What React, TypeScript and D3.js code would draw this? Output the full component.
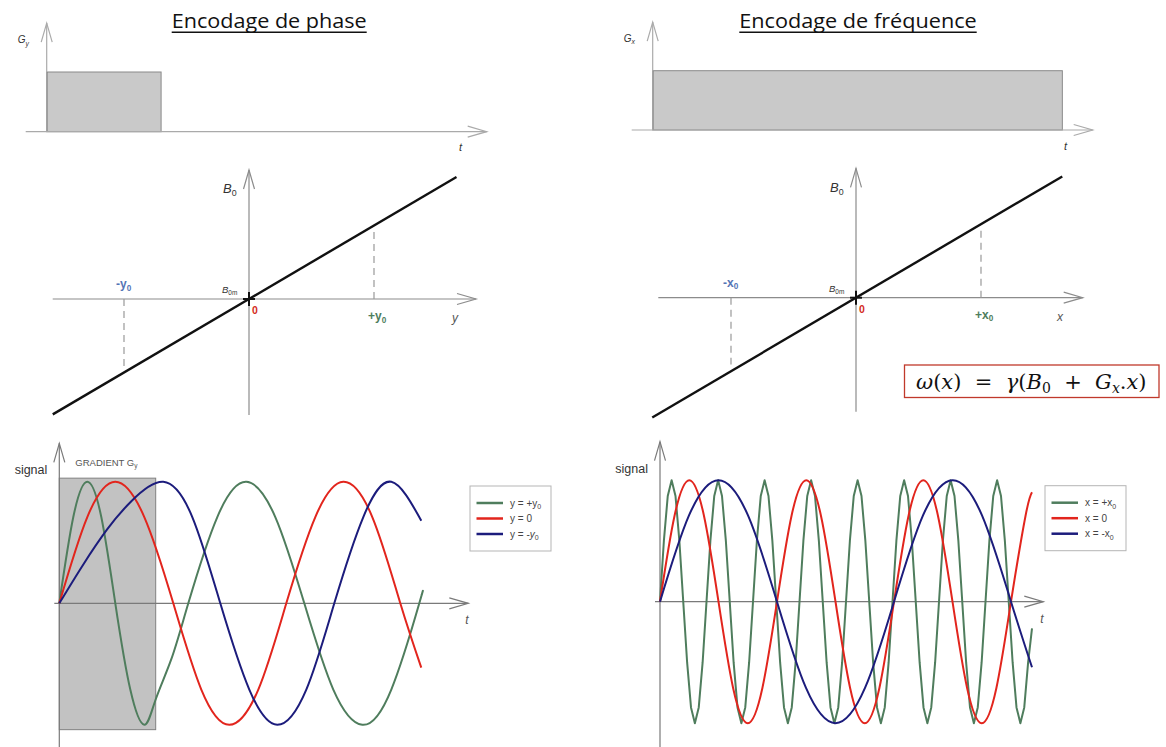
import React from 'react'
import * as d3 from 'd3'

const width = 1166
const height = 747

// titles and labels
const titles = ['Encodage de phase', 'Encodage de fréquence']
const legendPhase = ['+y', '0', '-y']
const legendFreq = ['+x', '0', '-x']
const colors = { green: '#4f7d5d', red: '#e2251d', blue: '#1c1c7c' }

// gradient pulses (start, end) in t units, amplitude 1
const pulsePhase = [0, 0.26]
const pulseFreq = [0, 0.931]

// B0 field lines (position, field) endpoints
const fieldPhase: [number, number][] = [[-1.57, -1.57], [1.66, 1.66]]
const fieldFreq: [number, number][] = [[-1.63, -1.63], [1.65, 1.65]]
const markerPos = [-1, 1]

// phase encoding: gradient window and signals [t, v]
const gradientWindow = [0, 96.4]
const phaseGreen: [number, number][] = [
  [0, 0], [14, 0.71], [28, 1], [42, 0.71], [56, 0], [71, -0.71], [85, -1], [96, -0.8],
  [112, -0.46], [129, 0], [158, 0.71], [187, 1], [216, 0.71], [245, 0], [274, -0.71],
  [303, -1], [332, -0.71], [360, 0], [362, 0.06],
]
const phaseRed: [number, number][] = [
  [0, 0], [28, 0.71], [56, 1], [85, 0.71], [114, 0], [142, -0.71], [170, -1], [199, -0.71],
  [227, 0], [256, 0.71], [284, 1], [313, 0.71], [341, 0], [362, -0.53],
]
const phaseBlue: [number, number][] = [
  [0, 0], [24, 0.32], [48, 0.61], [72, 0.84], [104, 1], [133, 0.71], [161, 0],
  [190, -0.71], [218, -1], [247, -0.71], [275, 0], [304, 0.71], [332, 1], [362, 0.68],
]

// frequency encoding signals
const freqRed: [number, number][] = [
  [0, 0], [14.6, 0.71], [29.3, 1], [43.9, 0.71], [58.5, 0], [73.1, -0.71], [87.8, -1],
  [102.4, -0.71], [117, 0], [131.6, 0.71], [146.3, 1], [160.9, 0.71], [175.5, 0],
  [190.1, -0.71], [204.8, -1], [219.4, -0.71], [234, 0], [248.6, 0.71], [263.3, 1],
  [277.9, 0.71], [292.5, 0], [307.1, -0.71], [321.8, -1], [336.4, -0.71], [351, 0],
  [365.6, 0.71], [372, 0.9],
]
const freqBlue: [number, number][] = [
  [0, 0], [29, 0.71], [58.5, 1], [88, 0.71], [117, 0], [146, -0.71], [175.5, -1],
  [205, -0.71], [234, 0], [263, 0.71], [292.5, 1], [322, 0.71], [351, 0], [372, -0.54],
]
// +x0 signal, sampled every 3.875 t units
const freqGreenStep = 3.875
const freqGreenValues = [
  0, 0.5, 0.87, 1, 0.87, 0.5, 0, -0.5, -0.87, -1, -0.87, -0.5,
  0, 0.5, 0.87, 1, 0.87, 0.5, 0, -0.5, -0.87, -1, -0.87, -0.5,
  0, 0.5, 0.87, 1, 0.87, 0.5, 0, -0.5, -0.87, -1, -0.87, -0.5,
  0, 0.5, 0.87, 1, 0.87, 0.5, 0, -0.5, -0.87, -1, -0.87, -0.5,
  0, 0.5, 0.87, 1, 0.87, 0.5, 0, -0.5, -0.87, -1, -0.87, -0.5,
  0, 0.5, 0.87, 1, 0.87, 0.5, 0, -0.5, -0.87, -1, -0.87, -0.5,
  0, 0.5, 0.87, 1, 0.87, 0.5, 0, -0.5, -0.87, -1, -0.87, -0.5,
  0, 0.5, 0.87, 1, 0.87, 0.5, 0, -0.5, -0.87, -1, -0.87, -0.5,
  -0.22,
]

const sans = 'Liberation Sans, Arial, sans-serif'

function Arrow({ x1, y1, x2, y2, stroke = '#999', w = 1.2 }) {
  const a = Math.atan2(y2 - y1, x2 - x1)
  const len = 19
  const spread = 5.5
  const bx = x2 - len * Math.cos(a)
  const by = y2 - len * Math.sin(a)
  const nx = -Math.sin(a) * spread
  const ny = Math.cos(a) * spread
  return (
    <g stroke={stroke} strokeWidth={w} fill="none">
      <line x1={x1} y1={y1} x2={x2} y2={y2} />
      <polyline points={`${bx + nx},${by + ny} ${x2},${y2} ${bx - nx},${by - ny}`} />
    </g>
  )
}

function Sub({ x, y, main, sub, size, fill = '#333', italic = false, weight = 'normal', subItalic = false }) {
  return (
    <text x={x} y={y} fontSize={size} fill={fill} fontFamily={sans} fontWeight={weight}>
      <tspan fontStyle={italic ? 'italic' : 'normal'}>{main}</tspan>
      <tspan fontSize={size * 0.68} dy={size * 0.22} fontStyle={subItalic ? 'italic' : 'normal'}>
        {sub}
      </tspan>
    </text>
  )
}

function Title({ text, x, y, w }) {
  return (
    <g>
      <text x={x} y={y} fontSize={19.5} fontFamily="Open Sans, sans-serif" fill="#111"
        textLength={w} lengthAdjust="spacingAndGlyphs">
        {text}
      </text>
      <line x1={x} x2={x + w} y1={y + 4} y2={y + 4} stroke="#111" strokeWidth={1.4} />
    </g>
  )
}

function Pulse({ x0, x1, y0, y1, pulse, label, tx }) {
  const x = d3.scaleLinear().domain([0, 1]).range([x0, x1])
  const y = d3.scaleLinear().domain([0, 1]).range([y0, y1])
  return (
    <g>
      <rect x={x(pulse[0])} y={y(1)} width={x(pulse[1]) - x(pulse[0])} height={y(0) - y(1)}
        fill="#c9c9c9" stroke="#8a8a8a" strokeWidth={1} />
      <line x1={x(0)} x2={x(0)} y1={y(0)} y2={y(1)} stroke="#555" strokeWidth={1.3} />
      <Arrow x1={x(0) - 21} y1={y(0)} x2={x(1)} y2={y(0)} stroke="#aaa" />
      <Arrow x1={x(0)} y1={y(0)} x2={x(0)} y2={y(1.82)} stroke="#aaa" />
      <Sub x={x(0) - 29} y={y(1.48)} main="G" sub={label} size={10} italic subItalic fill="#333" />
      <text x={tx} y={y(-0.33)} fontSize={11} fontStyle="italic" fontFamily={sans} fill="#333">t</text>
    </g>
  )
}

function Field({ cx, cy, line, axisL, axisR, axisT, axisB, name, lbl }) {
  const x = d3.scaleLinear().domain([-1, 1]).range([cx - 125, cx + 125])
  const y = d3.scaleLinear().domain([-1, 1]).range([cy + 73.5, cy - 73.5])
  const path = d3.line().x((d) => x(d[0])).y((d) => y(d[1]))(line)
  return (
    <g>
      <Arrow x1={axisL} y1={cy} x2={axisR} y2={cy} stroke="#8c8c8c" />
      <Arrow x1={cx} y1={axisB} x2={cx} y2={axisT} stroke="#8c8c8c" />
      {markerPos.map((m) => (
        <line key={m} x1={x(m)} x2={x(m)} y1={y(0)} y2={y(m * 0.91)} stroke="#999"
          strokeWidth={1.2} strokeDasharray="7,5" />
      ))}
      <path d={path} stroke="#111" strokeWidth={2.4} fill="none" />
      <line x1={cx - 6} x2={cx + 6} y1={cy} y2={cy} stroke="#111" strokeWidth={2} />
      <line x1={cx} x2={cx} y1={cy - 7} y2={cy + 7} stroke="#111" strokeWidth={2} />
      <Sub x={cx - 26} y={cy - 106} main="B" sub="0" size={13} italic fill="#333" />
      <Sub x={cx - 27} y={cy - 6} main="B" sub="0m" size={9.5} italic fill="#333" />
      <text x={cx + 3} y={cy + 15} fontSize={10.5} fontWeight="bold" fill="#d42a22" fontFamily={sans}>0</text>
      <Sub x={x(-1) - 8} y={cy - 11} main={`-${name}`} sub="0" size={12} weight="bold" fill="#5575b5" />
      <Sub x={x(1) - 6} y={cy + 21} main={`+${name}`} sub="0" size={12} weight="bold" fill="#4f7d5d" />
      <text x={lbl} y={cy + 23} fontSize={12} fontStyle="italic" fontFamily={sans} fill="#555">{name}</text>
    </g>
  )
}

function Signals({ ox, oy, series, linear, legend, lx, ly, axisR, window: win }) {
  const x = d3.scaleLinear().domain([0, 400]).range([ox, ox + 400])
  const y = d3.scaleLinear().domain([-1, 1]).range([oy + 121.5, oy - 121.5])
  const smooth = d3.line().x((d) => x(d[0])).y((d) => y(d[1])).curve(d3.curveNatural)
  const straight = d3.line().x((d) => x(d[0])).y((d) => y(d[1]))
  return (
    <g>
      {win && (
        <g>
          <rect x={x(win[0])} y={y(1.03)} width={x(win[1]) - x(win[0])} height={y(-1.04) - y(1.03)}
            fill="#c2c2c2" stroke="#808080" strokeWidth={1} />
          <Sub x={x(16)} y={y(1.13)} main="GRADIENT G" sub="y" size={9.5} fill="#555" />
        </g>
      )}
      <Arrow x1={ox - 5} y1={oy} x2={axisR} y2={oy} stroke="#7a7a7a" />
      <Arrow x1={ox} y1={height} x2={ox} y2={oy - 160} stroke="#7a7a7a" />
      <text x={ox - 12} y={oy - 129} fontSize={12.5} fontFamily={sans} fill="#333" textAnchor="end">signal</text>
      <text x={axisR - 3} y={oy + 21} fontSize={12} fontStyle="italic" fontFamily={sans} fill="#555">t</text>
      {series.map((s, i) => (
        <path key={i} d={(linear && i === 0 ? straight : smooth)(s)} stroke={[colors.green, colors.red, colors.blue][i]}
          strokeWidth={2} strokeLinejoin="round" fill="none" />
      ))}
      <rect x={lx} y={ly} width={81} height={65} fill="#fff" stroke="#b5b5b5" strokeWidth={1} />
      {legend.map((l, i) => (
        <g key={l}>
          <line x1={lx + 6.5} x2={lx + 33} y1={ly + 17 + i * 15.5} y2={ly + 17 + i * 15.5}
            stroke={[colors.green, colors.red, colors.blue][i]} strokeWidth={2.5} />
          <text x={lx + 40} y={ly + 20.5 + i * 15.5} fontSize={10} fontFamily={sans} fill="#444">
            <tspan>{`${legend === legendPhase ? 'y' : 'x'} = ${l.replace(/[xy]/, '')}`}</tspan>
            {l.length > 1 && (
              <tspan>
                <tspan fontStyle={legend === legendPhase && l[0] === '-' ? 'italic' : 'normal'}>{l.slice(-1)}</tspan>
                <tspan fontSize={7} dy={2.5}>0</tspan>
              </tspan>
            )}
          </text>
        </g>
      ))}
    </g>
  )
}

function Formula() {
  return (
    <g>
      <rect x={904.5} y={365} width={254.5} height={32.5} fill="#fff" stroke="#c0392b" strokeWidth={1.3} />
      <text x={916} y={388.5} fontSize={21} fontFamily="DejaVu Serif, serif" fill="#111"
        style={{ whiteSpace: 'pre' }}>
        <tspan fontStyle="italic">ω</tspan>
        <tspan>(</tspan>
        <tspan fontStyle="italic">x</tspan>
        <tspan>)  =  </tspan>
        <tspan fontStyle="italic">γ</tspan>
        <tspan>(</tspan>
        <tspan fontStyle="italic">B</tspan>
        <tspan fontSize={14} dy={4}>0</tspan>
        <tspan dy={-4}>  +  </tspan>
        <tspan fontStyle="italic">G</tspan>
        <tspan fontSize={14} dy={4} fontStyle="italic">x</tspan>
        <tspan dy={-4}>.</tspan>
        <tspan fontStyle="italic">x</tspan>
        <tspan>)</tspan>
      </text>
    </g>
  )
}

export default function App() {
  const greenFreq: [number, number][] = freqGreenValues.map((v, i) => [i * freqGreenStep, v])
  return (
    <svg width={width} height={height} style={{ position: 'absolute', left: 0, top: 0, background: '#fff' }}>
      <Title text={titles[0]} x={171.7} y={28.3} w={195} />
      <Title text={titles[1]} x={739.3} y={28.3} w={237.4} />

      <Pulse x0={46.7} x1={486.7} y0={131.7} y1={72} pulse={pulsePhase} label="y" tx={459} />
      <Pulse x0={652.7} x1={1092.7} y0={130} y1={70.7} pulse={pulseFreq} label="x" tx={1064} />

      <Field cx={249} cy={299} line={fieldPhase} axisL={52.7} axisR={476} axisT={170} axisB={415}
        name="y" lbl={452} />
      <Field cx={856} cy={297.7} line={fieldFreq} axisL={658.3} axisR={1082.7} axisT={168.3} axisB={411.7}
        name="x" lbl={1057} />
      <Formula />

      <Signals ox={59.3} oy={603.3} series={[phaseGreen, phaseRed, phaseBlue]} linear={false}
        legend={legendPhase} lx={470} ly={486} axisR={468.3} window={gradientWindow} />
      <Signals ox={660} oy={601.7} series={[greenFreq, freqRed, freqBlue]} linear
        legend={legendFreq} lx={1045} ly={485.7} axisR={1043.3} window={null} />
    </svg>
  )
}
